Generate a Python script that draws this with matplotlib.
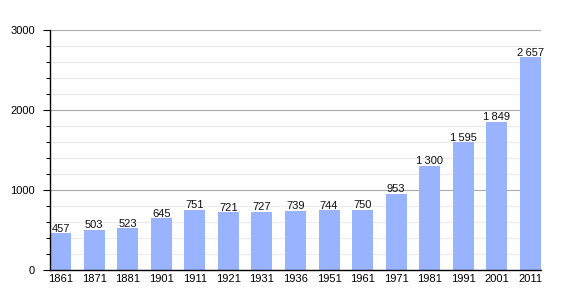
import numpy as np
from matplotlib import pyplot as plt

plt.rcParams['font.family'] = ['Liberation Sans', 'DejaVu Sans']

years = ["1861", "1871", "1881", "1901", "1911", "1921", "1931", "1936",
         "1951", "1961", "1971", "1981", "1991", "2001", "2011"]
population = [457, 503, 523, 645, 751, 721, 727, 739, 744, 750,
              953, 1300, 1595, 1849, 2657]

fig = plt.figure(figsize=(5.7, 3.0), dpi=100)
ax = fig.add_axes([50 / 570, 30 / 300, 491 / 570, 240 / 300])

x = np.arange(len(years))
w = 0.627
ax.bar(x, population, width=w, color="#99b3ff", zorder=3)

# value labels, thin space as thousands separator
for xi, v in zip(x, population):
    s = f"{v:,}".replace(",", "\u2009")
    ax.text(xi, v - 5, s, ha="center", va="bottom", fontsize=8, color="#111111",
            family=['Liberation Sans', 'DejaVu Sans'], zorder=4)

ax.set_xlim(-w / 2, len(years) - 1 + w / 2)
ax.set_ylim(0, 3000)
ax.set_xticks(x)
ax.set_xticklabels(years, fontsize=8)
ax.set_yticks([0, 1000, 2000, 3000])
ax.set_yticklabels(["0", "1000", "2000", "3000"], fontsize=8)
ax.set_yticks(np.arange(0, 3001, 200), minor=True)

ax.grid(axis="y", which="minor", color="#ebebeb", linewidth=0.8, zorder=0)
ax.grid(axis="y", which="major", color="#aaaaaa", linewidth=0.8, zorder=1)
ax.tick_params(axis="x", length=0, pad=3)
ax.tick_params(axis="y", which="major", length=5, width=0.8, pad=6)
ax.tick_params(axis="y", which="minor", length=3, width=0.8)

for side in ["top", "right"]:
    ax.spines[side].set_visible(False)
ax.spines["left"].set_linewidth(1.0)
ax.spines["bottom"].set_linewidth(1.0)
ax.spines["left"].set_zorder(5)
ax.spines["bottom"].set_zorder(5)

fig.savefig("out.png", dpi=100)
